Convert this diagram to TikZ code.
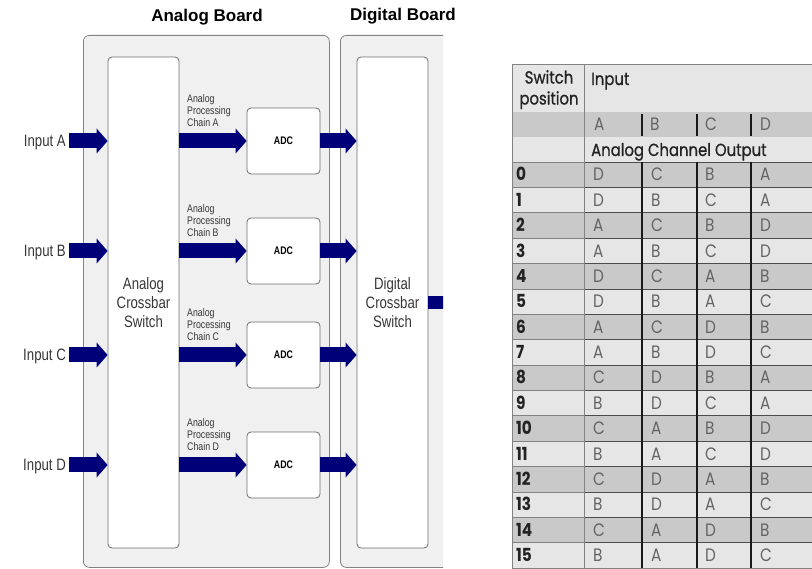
\documentclass[tikz,border=0pt]{standalone}
\usepackage{fontspec}
\setmainfont{Liberation Sans}
\newfontfamily\narrowfont[FakeStretch=0.8]{Liberation Sans}
\newfontfamily\tabfont[FakeStretch=0.85]{Poppins}
\newfontfamily\tabhdrfont[FakeStretch=0.85,FakeBold=0.8]{Poppins}
\usetikzlibrary{arrows.meta}
\definecolor{navy}{RGB}{0,0,120}
\definecolor{boardfill}{RGB}{240,240,240}
\definecolor{boardline}{RGB}{130,130,130}
\definecolor{boxline}{RGB}{110,110,110}
\definecolor{rowdark}{RGB}{201,201,201}
\definecolor{rowlight}{RGB}{230,230,230}
\definecolor{lettergray}{RGB}{100,100,100}
\definecolor{hdrtext}{RGB}{35,35,35}
\definecolor{diagtext}{RGB}{55,55,55}
\begin{document}
\begin{tikzpicture}[x=1pt,y=-1pt,
  board/.style={draw=boardline, fill=boardfill, rounded corners=6pt, line width=0.8pt, inner sep=0pt},
  whitebox/.style={draw=boxline, fill=white, rounded corners=4pt, line width=0.8pt, inner sep=0pt},
  bigbox/.style={whitebox, minimum width=71pt, minimum height=491pt, align=center, text=diagtext,
    font=\narrowfont\fontsize{16.5}{19}\selectfont},
  adcbox/.style={whitebox, minimum width=73pt, minimum height=66pt, text=black,
    font=\narrowfont\bfseries\fontsize{11}{13}\selectfont},
  chainlbl/.style={anchor=north west, align=left, inner sep=0pt, text=diagtext,
    font=\narrowfont\fontsize{11}{12}\selectfont},
  inlbl/.style={anchor=east, inner xsep=3pt, inner ysep=0pt, text height=12pt, text depth=0pt, text=diagtext,
    font=\narrowfont\fontsize{16.5}{19}\selectfont},
  titlelbl/.style={inner sep=0pt, font=\bfseries\fontsize{17}{20}\selectfont},
  blockarrow/.style={draw=navy, line width=15pt, -{Triangle[length=11pt,width=25pt,line width=0pt]}},
  hdrtxt/.style={inner sep=0pt, text=hdrtext, font=\tabhdrfont\fontsize{17.5}{21}\selectfont},
  numtxt/.style={anchor=base west, inner sep=0pt, text=hdrtext, font=\tabfont\bfseries\fontsize{18}{20}\selectfont},
  lettxt/.style={anchor=base west, inner sep=0pt, text=lettergray, font=\tabfont\fontsize{18}{20}\selectfont}
]
\useasboundingbox (0,0) rectangle (812,569);
\fill[white] (0,0) rectangle (812,569);

% ---------- titles ----------
\node[titlelbl] (tAnalog) at (207,17) {Analog Board};
\node[titlelbl] (tDigital) at (403,16) {Digital Board};

% ---------- boards ----------
\node[board, anchor=north west, minimum width=246pt, minimum height=532pt] (ab) at (83,35) {};
\begin{scope}
  \clip (0,0) rectangle (443,569);
  \node[board, anchor=north west, minimum width=140pt, minimum height=532pt] (db) at (340,35) {};
  \node[bigbox] (dcs) at (392.5,302.5) {Digital\\Crossbar\\Switch};
  \coordinate (stubend) at (470,302.5);
  \draw[navy, line width=13pt] (dcs.east) -- (stubend);
\end{scope}
\node[bigbox] (acs) at (143.5,302.5) {Analog\\Crossbar\\Switch};

% ---------- channels ----------
\foreach \ch/\yy in {A/141, B/251, C/355, D/465}{
  \node[inlbl] (in\ch) at (69,\yy) {Input \ch};
  \node[adcbox] (adc\ch) at (283.5,\yy) {ADC};
  \node[chainlbl] (lbl\ch) at (187,\yy-47) {Analog\\Processing\\Chain \ch};
  \draw[blockarrow] (in\ch.east) -- (acs.west |- in\ch.east);
  \draw[blockarrow] (acs.east |- adc\ch.west) -- (adc\ch.west);
  \draw[blockarrow] (adc\ch.east) -- (dcs.west |- adc\ch.east);
}

% ---------- table ----------
\fill[rowlight] (512,64) rectangle (812,112);
\fill[rowdark] (512,112) rectangle (812,137);
\fill[rowlight] (512,137) rectangle (812,162);

\node[hdrtxt, anchor=north, align=center] (swpos) at (549,70) {Switch\\position};
\node[hdrtxt, anchor=base west] (inputhdr) at (591,85) {Input};
\node[hdrtxt, anchor=base west] (outhdr) at (591,156) {Analog Channel Output};
\node[lettxt] (hA) at (594,131) {A};
\node[lettxt] (hB) at (650,131) {B};
\node[lettxt] (hC) at (705,131) {C};
\node[lettxt] (hD) at (760,131) {D};

\foreach \n/\a/\b/\c/\d [count=\k from 0] in {
  0/D/C/B/A, 1/D/B/C/A, 2/A/C/B/D, 3/A/B/C/D, 4/D/C/A/B, 5/D/B/A/C,
  6/A/C/D/B, 7/A/B/D/C, 8/C/D/B/A, 9/B/D/C/A, 10/C/A/B/D, 11/B/A/C/D,
  12/C/D/A/B, 13/B/D/A/C, 14/C/A/D/B, 15/B/A/D/C}{
  \pgfmathsetmacro\yt{162+25.375*\k}
  \pgfmathsetmacro\yb{162+25.375*(\k+1)}
  \pgfmathsetmacro\ybase{162+25.375*(\k+0.5)+6.3}
  \ifodd\k\relax \def\rc{rowlight}\else \def\rc{rowdark}\fi
  \fill[\rc] (512,\yt) rectangle (812,\yb);
  \node[numtxt] (num\k) at (516,\ybase) {\n};
  \node[lettxt] (ca\k) at (593,\ybase) {\a};
  \node[lettxt] (cb\k) at (651,\ybase) {\b};
  \node[lettxt] (cc\k) at (705,\ybase) {\c};
  \node[lettxt] (cd\k) at (760,\ybase) {\d};
}

% horizontal row lines
\foreach \k in {0,...,15}{
  \pgfmathsetmacro\yl{162+25.375*\k}
  \draw[boardline, line width=0.7pt] (512,\yl) -- (584,\yl);
  \draw[black!70, line width=0.7pt] (584,\yl) -- (812,\yl);
}
% vertical lines
\draw[boardline, line width=0.9pt] (584,64) -- (584,568);
\foreach \xx in {642,697,751}{
  \draw[black!90, line width=1.1pt] (\xx,162) -- (\xx,568);
  \draw[black!90, line width=1.1pt] (\xx,114) -- (\xx,136);
}
% outer border
\draw[boardline, line width=0.9pt] (512,64) rectangle (812,568);
\end{tikzpicture}
\end{document}
